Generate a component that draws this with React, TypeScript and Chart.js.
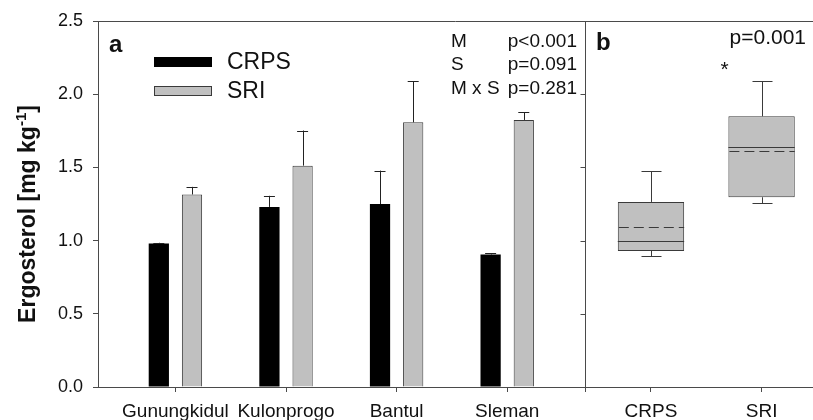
import React, { useEffect, useRef } from "react";
import { Chart, registerables } from "chart.js";

Chart.register(...registerables);

// ---- Data: panel a (mean + upper SE) ----
const sites = ["Gunungkidul", "Kulonprogo", "Bantul", "Sleman"];
const crpsMean = [0.98, 1.23, 1.25, 0.905];
const crpsErr = [0.005, 0.076, 0.228, 0.01];
const sriMean = [1.315, 1.512, 1.808, 1.824];
const sriErr = [0.052, 0.24, 0.282, 0.054];

// ---- Data: panel b (box plots) ----
const systems = ["CRPS", "SRI"];
const boxLow = [0.895, 1.257];
const boxQ1 = [0.929, 1.296];
const boxMedian = [0.997, 1.639];
const boxMean = [1.091, 1.614];
const boxQ3 = [1.264, 1.849];
const boxHigh = [1.475, 2.09];

// ---- Ticks / annotations ----
const yTicks = [0, 0.5, 1.0, 1.5, 2.0, 2.5];
const statsLabels = ["M", "S", "M x S"];
const statsValues = ["p<0.001", "p=0.091", "p=0.281"];
const panelBStat = "p=0.001";
const panelBMark = "*";
const yTitleMain = "Ergosterol [mg kg";
const yTitleSup = "-1";
const yTitleEnd = "]";

// x-axis layout positions (panel a at 1..4, panel b after the divider)
const siteX = sites.map((_, i) => i + 1);
const systemX = [5.3, 6.3];
const dividerX = 4.7;
const X_MIN = 0.3;
const X_MAX = 6.765;

const FONT = "'Liberation Sans', Arial, Helvetica, sans-serif";
const GRAY = "#c0c0c0";
const EDGE = "#3a3a3a";
const AXIS = "#4a4a4a";

const overlay = {
  id: "overlay",
  afterDatasetsDraw(chart: any) {
    const ctx: CanvasRenderingContext2D = chart.ctx;
    const xs = chart.scales.x;
    const ys = chart.scales.y;
    const area = chart.chartArea;
    ctx.save();

    // error bars for panel a
    const errSets = [
      { means: crpsMean, errs: crpsErr },
      { means: sriMean, errs: sriErr },
    ];
    errSets.forEach((s, di) => {
      const meta = chart.getDatasetMeta(di);
      meta.data.forEach((el: any, i: number) => {
        const yTop = ys.getPixelForValue(s.means[i] + s.errs[i]);
        const yBar = ys.getPixelForValue(s.means[i]);
        ctx.strokeStyle = "#222";
        ctx.lineWidth = 1;
        ctx.beginPath();
        ctx.moveTo(Math.round(el.x) + 0.5, yBar);
        ctx.lineTo(Math.round(el.x) + 0.5, yTop);
        ctx.moveTo(el.x - 5.5, Math.round(yTop) + 0.5);
        ctx.lineTo(el.x + 5.5, Math.round(yTop) + 0.5);
        ctx.stroke();
      });
    });

    // box plot details for panel b
    const boxMeta = chart.getDatasetMeta(2);
    boxMeta.data.forEach((el: any, i: number) => {
      const cx = Math.round(el.x) + 0.5;
      const half = el.width / 2;
      const pQ1 = ys.getPixelForValue(boxQ1[i]);
      const pQ3 = ys.getPixelForValue(boxQ3[i]);
      const pLo = Math.round(ys.getPixelForValue(boxLow[i])) + 0.5;
      const pHi = Math.round(ys.getPixelForValue(boxHigh[i])) + 0.5;
      const pMed = Math.round(ys.getPixelForValue(boxMedian[i])) + 0.5;
      const pMean = Math.round(ys.getPixelForValue(boxMean[i])) + 0.5;
      ctx.strokeStyle = EDGE;
      ctx.lineWidth = 1;
      ctx.setLineDash([]);
      ctx.beginPath();
      ctx.moveTo(cx, pQ3);
      ctx.lineTo(cx, pHi);
      ctx.moveTo(cx - 10, pHi);
      ctx.lineTo(cx + 10, pHi);
      ctx.moveTo(cx, pQ1);
      ctx.lineTo(cx, pLo);
      ctx.moveTo(cx - 10, pLo);
      ctx.lineTo(cx + 10, pLo);
      ctx.moveTo(el.x - half, pMed);
      ctx.lineTo(el.x + half, pMed);
      ctx.stroke();
      ctx.setLineDash([10, 5]);
      ctx.beginPath();
      ctx.moveTo(el.x - half + 1, pMean);
      ctx.lineTo(el.x + half, pMean);
      ctx.stroke();
      ctx.setLineDash([]);
    });

    // frame: top line and panel divider, panel b y ticks
    const dx = Math.round(xs.getPixelForValue(dividerX)) + 0.5;
    ctx.strokeStyle = AXIS;
    ctx.lineWidth = 1;
    ctx.beginPath();
    ctx.moveTo(area.left, Math.round(area.top) + 0.5);
    ctx.lineTo(area.right, Math.round(area.top) + 0.5);
    ctx.moveTo(dx, area.top);
    ctx.lineTo(dx, area.bottom + 5);
    yTicks.forEach((v) => {
      const py = Math.round(ys.getPixelForValue(v)) + 0.5;
      ctx.moveTo(dx - 5, py);
      ctx.lineTo(dx, py);
    });
    ctx.stroke();

    // legend (from dataset 0 and 1)
    const ds = chart.data.datasets;
    const legendRows = [
      { top: 57, label: ds[0].label, fill: ds[0].backgroundColor, stroke: null },
      { top: 86, label: ds[1].label, fill: ds[1].backgroundColor, stroke: EDGE },
    ];
    const baselines = [68.5, 97.5];
    legendRows.forEach((r, i) => {
      ctx.fillStyle = r.fill;
      ctx.fillRect(154, r.top, 58, 10);
      if (r.stroke) {
        ctx.strokeStyle = r.stroke;
        ctx.strokeRect(154.5, r.top + 0.5, 57, 9);
      }
      ctx.fillStyle = "#111";
      ctx.font = `23px ${FONT}`;
      ctx.textAlign = "left";
      ctx.textBaseline = "alphabetic";
      ctx.fillText(r.label, 227, baselines[i]);
    });

    // panel letters
    ctx.fillStyle = "#111";
    ctx.font = `bold 24px ${FONT}`;
    ctx.textAlign = "left";
    ctx.textBaseline = "alphabetic";
    ctx.fillText("a", 109, 52);
    ctx.fillText("b", 596, 50);

    // stats text
    ctx.font = `19px ${FONT}`;
    statsLabels.forEach((l, i) => {
      const by = 47 + i * 23.3;
      ctx.textAlign = "left";
      ctx.fillText(l, 451, by);
      ctx.textAlign = "right";
      ctx.fillText(statsValues[i], 577, by);
    });

    // panel b stat
    ctx.font = `21px ${FONT}`;
    ctx.textAlign = "right";
    ctx.fillText(panelBStat, 806, 44);
    ctx.textAlign = "center";
    ctx.font = `21px ${FONT}`;
    ctx.fillText(panelBMark, xs.getPixelForValue(systemX[1]) - 37, 76);

    // y-axis title with superscript
    ctx.save();
    ctx.translate(29, 214);
    ctx.rotate(-Math.PI / 2);
    const mainFont = `bold 23px ${FONT}`;
    const supFont = `bold 15px ${FONT}`;
    ctx.font = mainFont;
    const w1 = ctx.measureText(yTitleMain).width;
    const w3 = ctx.measureText(yTitleEnd).width;
    ctx.font = supFont;
    const w2 = ctx.measureText(yTitleSup).width;
    const total = w1 + w2 + w3;
    let x0 = -total / 2;
    ctx.textAlign = "left";
    ctx.textBaseline = "middle";
    ctx.font = mainFont;
    ctx.fillText(yTitleMain, x0, 0);
    x0 += w1;
    ctx.font = supFont;
    ctx.fillText(yTitleSup, x0, -7);
    x0 += w2;
    ctx.font = mainFont;
    ctx.fillText(yTitleEnd, x0, 0);
    ctx.restore();

    ctx.restore();
  },
};

export default function App() {
  const ref = useRef<HTMLCanvasElement>(null);
  useEffect(() => {
    const canvas = ref.current;
    if (!canvas) return;
    const tickPositions = [...siteX, ...systemX];
    const tickLabels = [...sites, ...systems];
    const chart = new Chart(canvas, {
      type: "bar",
      data: {
        datasets: [
          {
            label: "CRPS",
            data: sites.map((_, i) => ({ x: siteX[i], y: crpsMean[i] })),
            backgroundColor: "#000000",
            borderWidth: 0,
            categoryPercentage: 0.6,
            barPercentage: 0.61,
            grouped: true,
          },
          {
            label: "SRI",
            data: sites.map((_, i) => ({ x: siteX[i], y: sriMean[i] })),
            backgroundColor: GRAY,
            borderColor: EDGE,
            borderWidth: 1,
            categoryPercentage: 0.6,
            barPercentage: 0.61,
            grouped: true,
          },
          {
            label: "box",
            data: systems.map((_, i) => ({ x: systemX[i], y: [boxQ1[i], boxQ3[i]] })),
            backgroundColor: GRAY,
            borderColor: EDGE,
            borderWidth: 1,
            borderSkipped: false,
            categoryPercentage: 1,
            barPercentage: 0.6,
            grouped: false,
          },
        ] as any,
      },
      options: {
        animation: false,
        responsive: false,
        devicePixelRatio: 1,
        layout: { padding: { top: 21, left: 0, right: 0, bottom: 0 } },
        plugins: { legend: { display: false }, tooltip: { enabled: false } },
        scales: {
          x: {
            type: "linear",
            offset: false,
            min: X_MIN,
            max: X_MAX,
            afterBuildTicks: (s: any) => {
              s.ticks = tickPositions.map((v) => ({ value: v }));
            },
            afterFit: (s: any) => {
              s.height = 33;
            },
            ticks: {
              autoSkip: false,
              maxRotation: 0,
              padding: 8,
              color: "#111",
              font: { family: FONT, size: 19 },
              callback: (_v: any, i: number) => tickLabels[i],
            },
            grid: { offset: false, drawOnChartArea: false, drawTicks: true, tickLength: 5, color: AXIS },
            border: { color: AXIS, width: 1 },
          },
          y: {
            type: "linear",
            min: 0,
            max: 2.5,
            afterBuildTicks: (s: any) => {
              s.ticks = yTicks.map((v) => ({ value: v }));
            },
            afterFit: (s: any) => {
              s.width = 98;
            },
            ticks: {
              padding: 10,
              color: "#111",
              font: { family: FONT, size: 18 },
              callback: (v: any) => Number(v).toFixed(1),
            },
            grid: { drawOnChartArea: false, drawTicks: true, tickLength: 5, color: AXIS },
            border: { color: AXIS, width: 1 },
          },
        },
      } as any,
      plugins: [overlay],
    });
    return () => chart.destroy();
  }, []);
  return (
    <div style={{ position: "absolute", left: 0, top: 0, width: 813, height: 420, background: "#fff" }}>
      <canvas ref={ref} width={813} height={420} style={{ display: "block" }} />
    </div>
  );
}
